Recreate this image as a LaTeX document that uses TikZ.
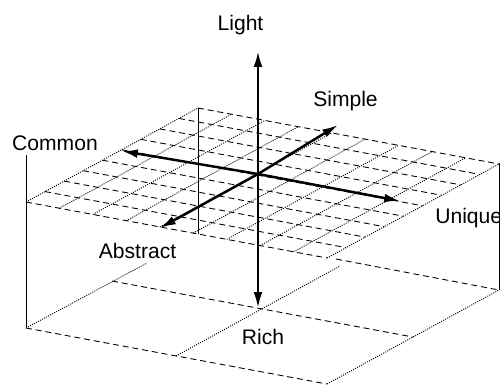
\documentclass[tikz,border=0pt]{standalone}
\usepackage{fontspec}
\setmainfont{Liberation Sans}
\usetikzlibrary{arrows.meta}

\begin{document}
\begin{tikzpicture}[x=0.02cm, y=-0.02cm,
    every node/.style={font=\fontsize{12}{14}\selectfont, inner sep=0pt, anchor=base},
    dashline/.style={color = black, line width=0.5pt, dash pattern=on 3.4pt off 2.2pt},
    dotline/.style={color = black, line width=0.5pt, dash pattern=on 0.6pt off 0.7pt},
    edge/.style={color = black, line width=0.45pt},
    axis/.style={color = black, line width=1.4pt, -{Latex[length=9pt,width=5pt]}}]
        \useasboundingbox (0,0) rectangle (500,387);
        % bottom plane
        \draw[dashline] (26,328) -- (327,384);
        \draw[dotline] (327,384) -- (499,290);
        \draw[dotline] (26,328) -- (147,263);
        \draw[dashline] (112,281) -- (413,337);
        \draw[dotline] (176,356) -- (340,266);
        \draw[dashline] (336,259) -- (499,290);
        % box edges
        \draw[edge] (26,155) -- (26,328);
        \draw[edge] (499,163) -- (499,290);
        \draw[edge] (198,108) -- (198,234);
        % top plane, lines along the front edge
        \draw[dashline] (26,202) -- (327,258);
        \draw[dashline] (45.1,191.6) -- (346.1,247.6);
        \draw[dashline] (64.2,181.1) -- (365.2,237.1);
        \draw[dashline] (83.3,170.7) -- (384.3,226.7);
        \draw[dashline] (102.4,160.2) -- (403.4,216.2);
        \draw[dashline] (121.6,149.8) -- (422.6,205.8);
        \draw[dashline] (140.7,139.3) -- (441.7,195.3);
        \draw[dashline] (159.8,128.9) -- (460.8,184.9);
        \draw[dashline] (178.9,118.4) -- (479.9,174.4);
        \draw[dashline] (198,108) -- (499,164);
        % top plane, lines along the side edge
        \draw[dotline] (26,202) -- (198,108);
        \draw[dotline] (59.4,208.2) -- (231.4,114.2);
        \draw[dotline] (92.9,214.4) -- (264.9,120.4);
        \draw[dotline] (126.3,220.7) -- (298.3,126.7);
        \draw[dotline] (159.8,226.9) -- (331.8,132.9);
        \draw[dotline] (193.2,233.1) -- (365.2,139.1);
        \draw[dotline] (226.7,239.3) -- (398.7,145.3);
        \draw[dotline] (260.1,245.6) -- (432.1,151.6);
        \draw[dotline] (293.6,251.8) -- (465.6,157.8);
        \draw[dotline] (327,258) -- (499,164);
        % axes
        \coordinate (o) at (258,174);
        \coordinate (top) at (258,51);
        \coordinate (bottom) at (258,308);
        \coordinate (left) at (122,151);
        \coordinate (right) at (400,201);
        \coordinate (back) at (338,125);
        \coordinate (front) at (160,228);
        \draw[axis] (o) -- (top);
        \draw[axis] (o) -- (bottom);
        \draw[axis] (o) -- (left);
        \draw[axis] (o) -- (right);
        \draw[axis] (o) -- (back);
        \draw[axis] (o) -- (front);
        \node (light) at (240.5,30) {Light};
        \node (simple) at (345.5,106) {Simple};
        \node (common) at (55,150) {Common};
        \node (unique) at (435,223) [anchor=base west] {Unique};
        \node (abstract) at (137.5,258) {Abstract};
        \node (rich) at (263,344) {Rich};
        \end{tikzpicture}
\end{document}
